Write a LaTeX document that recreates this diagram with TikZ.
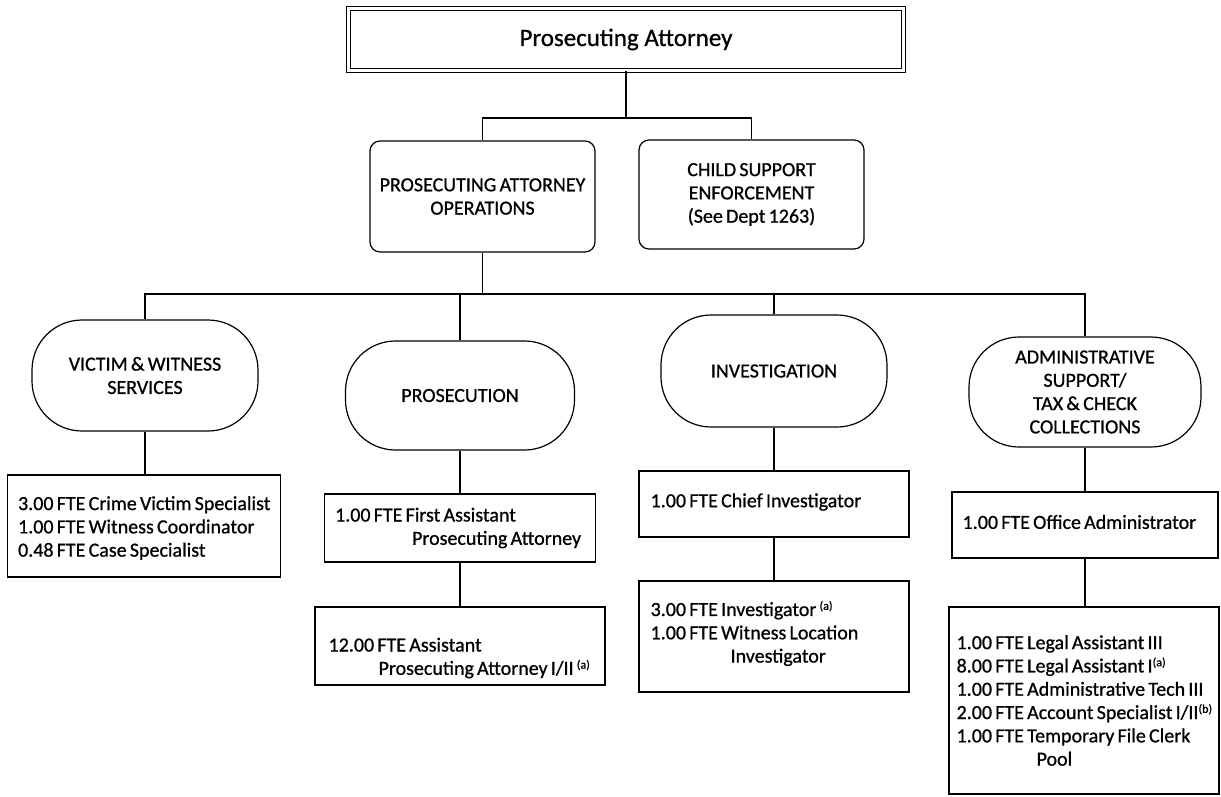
\documentclass[tikz,border=0pt]{standalone}
\usepackage{fontspec}
\setmainfont{Carlito}[RawFeature={embolden=0.8}]
\newcommand\supnote[1]{\raisebox{0.65ex}{\fontsize{12}{12}\selectfont #1}}
\newcommand\chartfont{\fontsize{20}{23.3}\selectfont\spaceskip=0.16em\relax}
\begin{document}
\begin{tikzpicture}[x=1pt,y=-1pt,
  every node/.style={font=\chartfont, inner sep=0pt},
  line/.style={line width=1.2pt},
  post/.style={draw, line width=1.2pt},
  posttext/.style={anchor=west, align=left},
  unit/.style={draw, line width=1.2pt, rounded corners=10pt, align=center},
  oval/.style={draw, line width=1.2pt, rounded corners=50pt, align=center},
]
\fill[white] (0,0) rectangle (1221,796);
\useasboundingbox (0,0) rectangle (1221,796);

% head of the office
\node[draw, double, double distance=2.5pt, line width=1.2pt,
      minimum width=555, minimum height=62,
      font=\fontsize{25}{28}\selectfont] (pa) at (626,39.5) {Prosecuting Attorney};

% divisions
\node[unit, minimum width=225, minimum height=111] (ops) at (482.5,196.5)
  {PROSECUTING ATTORNEY\\OPERATIONS};
\node[unit, minimum width=225, minimum height=109] (cse) at (751.5,194.5)
  {CHILD SUPPORT\\ENFORCEMENT\\(See Dept 1263)};

% sections
\node[oval, minimum width=226, minimum height=111] (vic) at (145,375.5)
  {VICTIM \& WITNESS\\SERVICES};
\node[oval, minimum width=229, minimum height=109] (pro) at (460,395.5)
  {PROSECUTION};
\node[oval, minimum width=226, minimum height=112] (inv) at (774,371)
  {INVESTIGATION};
\node[oval, minimum width=232, minimum height=110] (adm) at (1085,392)
  {ADMINISTRATIVE\\SUPPORT/\\TAX \& CHECK\\COLLECTIONS};

% staff position boxes
\node[post, minimum width=273, minimum height=102] (vb)  at (144,526) {};
\node[post, minimum width=271, minimum height=68]  (pb1) at (460,528) {};
\node[post, minimum width=290, minimum height=78]  (pb2) at (460,646) {};
\node[post, minimum width=270, minimum height=66]  (ib1) at (774,504) {};
\node[post, minimum width=270, minimum height=111] (ib2) at (774,636.5) {};
\node[post, minimum width=266, minimum height=66]  (ab1) at (1085,525) {};
\node[post, minimum width=270, minimum height=187] (ab2) at (1084,700.5) {};

% staff position texts
\node[posttext] (vbt) at ([xshift=11pt,yshift=-2pt]vb.west)
  {3.00 FTE Crime Victim Specialist\\1.00 FTE Witness Coordinator\\0.48 FTE Case Specialist};
\node[posttext] (pb1t) at ([xshift=11pt]pb1.west)
  {1.00 FTE First Assistant\\\hspace*{77pt}Prosecuting Attorney};
\node[posttext] (pb2t) at ([xshift=14pt,yshift=-12pt]pb2.west)
  {12.00 FTE Assistant\\\hspace*{50pt}Prosecuting Attorney I/II \supnote{(a)}};
\node[posttext] (ib1t) at ([xshift=12pt,yshift=2pt]ib1.west)
  {1.00 FTE Chief Investigator};
\node[posttext] (ib2t) at ([xshift=12pt,yshift=3pt]ib2.west)
  {3.00 FTE Investigator \supnote{(a)}\\1.00 FTE Witness Location\\\hspace*{80pt}Investigator};
\node[posttext] (ab1t) at ([xshift=11pt,yshift=3pt]ab1.west)
  {1.00 FTE Office Administrator};
\node[posttext] (ab2t) at ([xshift=8pt]ab2.west)
  {1.00 FTE Legal Assistant III\\8.00 FTE Legal Assistant I\supnote{(a)}\\1.00 FTE Administrative Tech III\\2.00 FTE Account Specialist I/II\supnote{(b)}\\1.00 FTE Temporary File Clerk\\\hspace*{80pt}Pool};

% reporting lines
\coordinate (bus1) at (625,118);
\coordinate (bus2) at (483,294);
\draw[line] (pa.south) -- (pa.south |- bus1);
\draw[line] (ops.north) |- (bus1) -| (cse.north);
\draw[line] (ops.south) -- (ops.south |- bus2);
\draw[line] (vic.north) |- (bus2) -| (adm.north);
\draw[line] (pro.north) -- (pro.north |- bus2);
\draw[line] (inv.north) -- (inv.north |- bus2);

\draw[line] (vic.south) -- (vic.south |- vb.north);
\draw[line] (pro.south) -- (pro.south |- pb1.north);
\draw[line] (pb1.south) -- (pb1.south |- pb2.north);
\draw[line] (inv.south) -- (inv.south |- ib1.north);
\draw[line] (ib1.south) -- (ib1.south |- ib2.north);
\draw[line] (adm.south) -- (adm.south |- ab1.north);
\draw[line] (ab1.south) -- (ab1.south |- ab2.north);
\end{tikzpicture}
\end{document}
